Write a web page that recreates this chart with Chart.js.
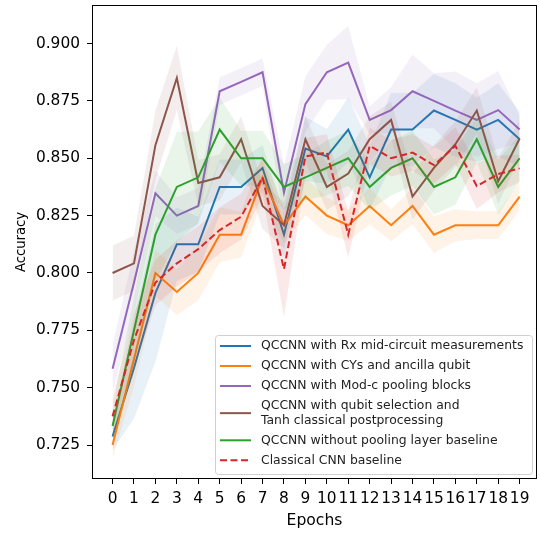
<!DOCTYPE html>
<html>
<head>
<meta charset="utf-8">
<script src="https://cdn.jsdelivr.net/npm/chart.js@4.4.1/dist/chart.umd.min.js"></script>
<style>
  html, body { margin: 0; padding: 0; background: #fff; }
</style>
</head>
<body>
<canvas id="chart" width="540" height="533"></canvas>
<script>
// Test accuracy per epoch (mean over runs) with the +/- std band around each curve.
const epochs = [0, 1, 2, 3, 4, 5, 6, 7, 8, 9, 10, 11, 12, 13, 14, 15, 16, 17, 18, 19];
const yTicks = [0.725, 0.75, 0.775, 0.8, 0.825, 0.85, 0.875, 0.9];

const rxMean = [0.7287, 0.7586, 0.7913, 0.8125, 0.8125, 0.8375, 0.8375, 0.8458, 0.8167, 0.8542,
                0.8508, 0.8625, 0.8417, 0.8625, 0.8625, 0.8708, 0.8667, 0.8625, 0.8667, 0.8583];
const rxStd = [0.006, 0.022, 0.03, 0.016, 0.012, 0.012, 0.012, 0.01, 0.01, 0.014,
               0.012, 0.014, 0.014, 0.016, 0.016, 0.016, 0.016, 0.014, 0.016, 0.012];

const cyMean = [0.725, 0.7625, 0.8, 0.7917, 0.8, 0.8167, 0.8167, 0.8417, 0.8208, 0.8333,
                0.825, 0.8208, 0.8292, 0.8208, 0.8292, 0.8167, 0.8208, 0.8208, 0.8208, 0.8333];
const cyStd = [0.006, 0.012, 0.01, 0.01, 0.012, 0.012, 0.01, 0.01, 0.008, 0.008,
               0.008, 0.007, 0.008, 0.007, 0.008, 0.008, 0.007, 0.006, 0.006, 0.006];

const modcMean = [0.7583, 0.7958, 0.8347, 0.825, 0.8292, 0.8792, 0.8833, 0.8875, 0.835, 0.8736,
                  0.8875, 0.8917, 0.8667, 0.871, 0.8792, 0.875, 0.8708, 0.8667, 0.871, 0.8625];
const modcStd = [0.01, 0.014, 0.01, 0.008, 0.008, 0.006, 0.006, 0.006, 0.012, 0.012,
                 0.012, 0.016, 0.006, 0.01, 0.016, 0.012, 0.017, 0.016, 0.017, 0.006];

const selMean = [0.8, 0.8042, 0.8557, 0.885, 0.8392, 0.8417, 0.8583, 0.8292, 0.8208, 0.8583,
                 0.8375, 0.8433, 0.8583, 0.8667, 0.8333, 0.8458, 0.8561, 0.8708, 0.84, 0.8586];
const selStd = [0.012, 0.012, 0.015, 0.014, 0.01, 0.01, 0.01, 0.01, 0.01, 0.01,
                0.01, 0.01, 0.01, 0.008, 0.01, 0.01, 0.01, 0.01, 0.01, 0.008];

const noPoolMean = [0.7333, 0.775, 0.8167, 0.8375, 0.8417, 0.8625, 0.85, 0.85, 0.8375, 0.8417,
                    0.8458, 0.85, 0.8375, 0.8458, 0.85, 0.8375, 0.8417, 0.8583, 0.8375, 0.85];
const noPoolStd = [0.008, 0.015, 0.02, 0.024, 0.02, 0.014, 0.012, 0.012, 0.01, 0.01,
                   0.012, 0.012, 0.01, 0.012, 0.012, 0.012, 0.012, 0.01, 0.012, 0.01];

const cnnMean = [0.7375, 0.7708, 0.7958, 0.8042, 0.8104, 0.8187, 0.8245, 0.8417, 0.8017, 0.8508,
                 0.8525, 0.8167, 0.8554, 0.85, 0.8525, 0.847, 0.8554, 0.8379, 0.8431, 0.8456];
const cnnStd = [0.008, 0.012, 0.01, 0.01, 0.01, 0.01, 0.01, 0.008, 0.021, 0.008,
                0.008, 0.01, 0.008, 0.008, 0.008, 0.008, 0.008, 0.01, 0.008, 0.006];

// plotted in this order; legend follows the same order
const series = [
  { label: "QCCNN with Rx mid-circuit measurements", mean: rxMean, std: rxStd, color: "31,119,180" },
  { label: "QCCNN with CYs and ancilla qubit", mean: cyMean, std: cyStd, color: "255,127,14" },
  { label: "QCCNN with Mod-c pooling blocks", mean: modcMean, std: modcStd, color: "148,103,189" },
  { label: "QCCNN with qubit selection and\nTanh classical postprocessing", mean: selMean, std: selStd, color: "140,86,75" },
  { label: "QCCNN without pooling layer baseline", mean: noPoolMean, std: noPoolStd, color: "44,160,44" },
  { label: "Classical CNN baseline", mean: cnnMean, std: cnnStd, color: "214,39,40", dash: [7, 3.5] },
];

const FONT = "DejaVu Sans";
Chart.defaults.font.family = FONT;
Chart.defaults.color = "#000";

const pts = (arr) => arr.map((v, i) => ({ x: epochs[i], y: v }));

const datasets = [];
series.forEach((s) => {
  const upperIdx = datasets.length;
  datasets.push({
    data: pts(s.mean.map((m, i) => m + s.std[i])),
    borderWidth: 0, pointRadius: 0, fill: false,
  });
  datasets.push({
    data: pts(s.mean.map((m, i) => m - s.std[i])),
    borderWidth: 0, pointRadius: 0,
    fill: upperIdx, backgroundColor: "rgba(" + s.color + ",0.1)",
  });
  datasets.push({
    label: s.label,
    data: pts(s.mean),
    borderColor: "rgb(" + s.color + ")",
    borderWidth: 2,
    borderDash: s.dash || [],
    pointRadius: 0, fill: false,
  });
});
// first pushed is drawn first (lowest layer)
datasets.forEach((d, i) => { d.order = datasets.length - i; d.tension = 0; });

const frame = {
  id: "frame",
  afterDatasetsDraw(chart) {
    const { left, top, right, bottom } = chart.chartArea;
    const ctx = chart.ctx;
    ctx.save();
    ctx.strokeStyle = "#000";
    ctx.lineWidth = 1;
    ctx.strokeRect(Math.round(left) + 0.5, Math.round(top) + 0.5,
      Math.round(right - left) - 1, Math.round(bottom - top) - 1);
    ctx.restore();
  },
};

const legendBox = {
  id: "legendBox",
  afterDraw(chart) {
    const ctx = chart.ctx;
    const bx = 215.5, by = 335.5, bw = 317, bh = 139;
    ctx.save();
    ctx.beginPath();
    ctx.roundRect(bx, by, bw, bh, 3);
    ctx.fillStyle = "rgba(255,255,255,0.8)";
    ctx.fill();
    ctx.strokeStyle = "#d0d0d0";
    ctx.lineWidth = 1;
    ctx.stroke();
    ctx.font = "12.4px " + FONT;
    ctx.textBaseline = "middle";
    ctx.fillStyle = "#222";
    let y = 346;
    const lineGap = 14.3;
    series.forEach((s) => {
      const lines = s.label.split("\n");
      const cy = y + (lines.length - 1) * lineGap / 2;
      ctx.beginPath();
      ctx.setLineDash(s.dash || []);
      ctx.strokeStyle = "rgb(" + s.color + ")";
      ctx.lineWidth = 2;
      ctx.moveTo(220, cy);
      ctx.lineTo(251, cy);
      ctx.stroke();
      ctx.setLineDash([]);
      lines.forEach((t, k) => ctx.fillText(t, 261, y + k * lineGap));
      y += (lines.length - 1) * lineGap + 20;
    });
    ctx.restore();
  },
};

new Chart(document.getElementById("chart"), {
  type: "line",
  data: { datasets },
  options: {
    responsive: false,
    animation: false,
    devicePixelRatio: 1,
    layout: { padding: { top: 5, right: 3, left: 0, bottom: 0 } },
    plugins: { legend: { display: false }, tooltip: { enabled: false } },
    scales: {
      x: {
        type: "linear",
        min: -0.96,
        max: 19.81,
        afterBuildTicks: (scale) => { scale.ticks = epochs.map((v) => ({ value: v })); },
        afterFit: (scale) => {
          scale.height = 54;
          scale.paddingLeft = 0;
          scale.paddingRight = 0;
        },
        ticks: {
          autoSkip: false, maxRotation: 0, padding: 6,
          font: { size: 15.4 }, color: "#000",
          callback: (v) => String(v),
        },
        grid: { drawOnChartArea: false, drawTicks: true, tickLength: 5, color: "#000" },
        border: { display: false },
        title: { display: true, text: "Epochs", font: { size: 15.6 }, color: "#000", padding: { top: 0, bottom: 3 } },
      },
      y: {
        min: 0.7102,
        max: 0.9168,
        afterBuildTicks: (scale) => { scale.ticks = yTicks.map((v) => ({ value: v })); },
        afterFit: (scale) => {
          scale.width = 92;
          scale.paddingTop = 0;
          scale.paddingBottom = 0;
        },
        ticks: {
          padding: 7, font: { size: 15.4 }, color: "#000",
          callback: (v) => v.toFixed(3),
        },
        grid: { drawOnChartArea: false, drawTicks: true, tickLength: 5, color: "#000" },
        border: { display: false },
        title: { display: true, text: "Accuracy", font: { size: 13.2 }, color: "#000", padding: { top: 14, bottom: 0 } },
      },
    },
  },
  plugins: [frame, legendBox],
});
</script>
</body>
</html>
